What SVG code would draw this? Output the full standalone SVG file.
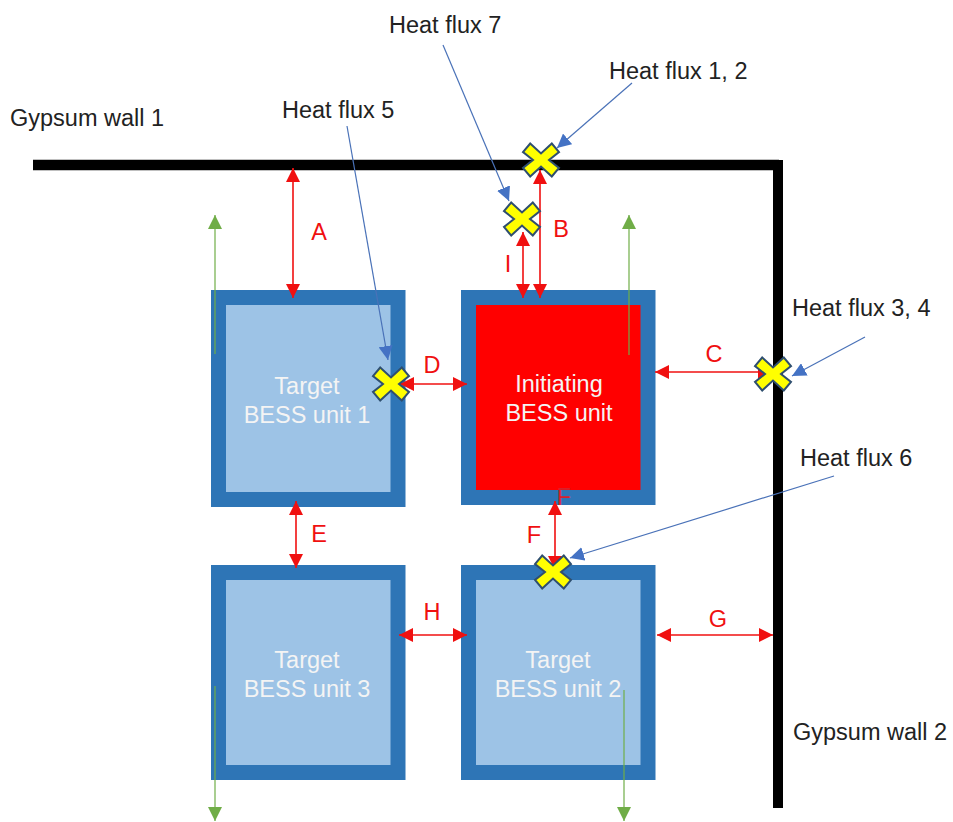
<svg xmlns="http://www.w3.org/2000/svg" width="953" height="822" viewBox="0 0 953 822">
<style>
text{font-family:"Liberation Sans",Arial,sans-serif}
.l{font-size:23.500px;fill:#222}
.n{font-size:23.500px;fill:#f4f4f4;text-anchor:middle}
.r{font-size:23.500px;fill:#f01010;text-anchor:middle}
.u{stroke:#2e75b6;stroke-width:15;fill:#9dc3e6}
.red{stroke:#f01010;stroke-width:1.6;fill:none;marker-start:url(#ar);marker-end:url(#ar)}
.blue{stroke:#4a72b8;stroke-width:1.2;fill:none;marker-end:url(#ab)}
.green{stroke:#70ad47;stroke-width:1.2;fill:none;marker-end:url(#ag)}
.x{fill:#ffff00;stroke:#2f4f6f;stroke-width:2}
</style>
<defs>
<marker id="ar" markerUnits="userSpaceOnUse" markerWidth="15" markerHeight="14" refX="14" refY="7" orient="auto-start-reverse"><path d="M0 0L14 7L0 14Z" fill="#f01010"/></marker>
<marker id="ab" markerUnits="userSpaceOnUse" markerWidth="15" markerHeight="14" refX="14" refY="7" orient="auto"><path d="M0 0L14 7L0 14Z" fill="#4472c4"/></marker>
<marker id="ag" markerUnits="userSpaceOnUse" markerWidth="15" markerHeight="14" refX="14" refY="7" orient="auto"><path d="M0 0L14 7L0 14Z" fill="#70ad47"/></marker>
<path id="cross" d="M-10.800 -16.500L0 -6.500L10.800 -16.500L18 -8L8 0L18 8L10.800 16.500L0 6.500L-10.800 16.500L-18 8L-8 0L-18 -8Z"/>
</defs>

<g id="wall-1"><path d="M33 165H779" stroke="#000" stroke-width="10.500" fill="none"/><text class="l" x="10" y="126">Gypsum wall 1</text></g>
<g id="wall-2"><path d="M778 160V808" stroke="#000" stroke-width="10" fill="none"/><text class="l" x="793" y="740">Gypsum wall 2</text></g>

<g id="unit-target-1"><rect class="u" x="218.500" y="297.500" width="179.500" height="202"/><text class="n" x="307" y="394">Target</text><text class="n" x="307" y="423">BESS unit 1</text></g>
<g id="unit-initiating"><rect class="u" x="468.500" y="297.500" width="179.500" height="200" style="fill:#ff0000"/><text class="n" x="559" y="392">Initiating</text><text class="n" x="559" y="421">BESS unit</text></g>
<g id="unit-target-3"><rect class="u" x="218.500" y="572.500" width="179.500" height="200"/><text class="n" x="307" y="668">Target</text><text class="n" x="307" y="697">BESS unit 3</text></g>
<g id="unit-target-2"><rect class="u" x="468.500" y="572.500" width="179.500" height="200"/><text class="n" x="558" y="668">Target</text><text class="n" x="558" y="697">BESS unit 2</text></g>

<g id="connectors">
<path class="green" d="M215 354V215"/>
<path class="green" d="M629 355V215"/>
<path class="green" d="M215 686V821"/>
<path class="green" d="M624 690V821"/>
<path class="red" d="M293 168V298"/>
<path class="red" d="M540 170V298"/>
<path class="red" d="M523 232V298"/>
<path class="red" d="M655 372H772"/>
<path class="red" d="M400 384H467"/>
<path class="red" d="M296 501V568"/>
<path class="red" d="M555 501V570"/>
<path class="red" d="M399 635H467"/>
<path class="red" d="M657 635H773"/>
<path class="blue" d="M347 126L388 360"/>
<path class="blue" d="M443 45L509 201"/>
<path class="blue" d="M632 83L557 148"/>
<path class="blue" d="M865 337L792 376"/>
<path class="blue" d="M834 476L570 558"/>
</g>

<g id="flux-markers">
<use class="x" href="#cross" x="541" y="160"/>
<use class="x" href="#cross" x="522" y="219"/>
<use class="x" href="#cross" x="391" y="384"/>
<use class="x" href="#cross" x="773" y="374"/>
<use class="x" href="#cross" x="553" y="572"/>
</g>

<g id="labels">
<text class="l" x="389" y="33">Heat flux 7</text>
<text class="l" x="609" y="79">Heat flux 1, 2</text>
<text class="l" x="282" y="118">Heat flux 5</text>
<text class="l" x="792" y="316">Heat flux 3, 4</text>
<text class="l" x="800" y="466">Heat flux 6</text>
<text class="r" x="319" y="240">A</text>
<text class="r" x="561" y="237">B</text>
<text class="r" x="714" y="362">C</text>
<text class="r" x="432" y="373">D</text>
<text class="r" x="319" y="542">E</text>
<text class="r" x="534" y="543">F</text>
<text class="r" x="564" y="505" style="fill:#d8202a">F</text>
<text class="r" x="718" y="627">G</text>
<text class="r" x="432" y="620">H</text>
<text class="r" x="508" y="272">I</text>
</g>
</svg>
